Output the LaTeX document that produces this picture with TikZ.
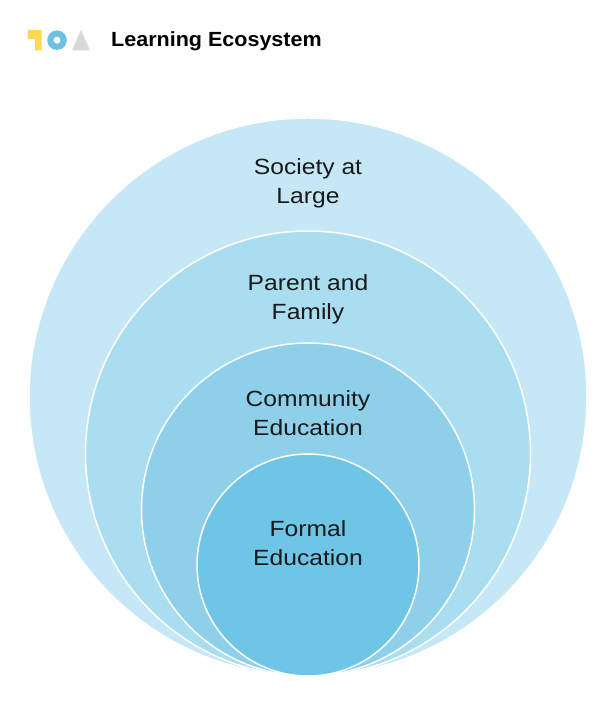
\documentclass[tikz,border=0pt]{standalone}
\usepackage{fontspec}
\setmainfont{Liberation Sans}
\newfontfamily\ringfont[FakeStretch=1.12]{Liberation Sans}
\newfontfamily\titlefont[FakeStretch=1.05]{Liberation Sans}
\usepackage{tikz}
\definecolor{society}{HTML}{C6E8F6}
\definecolor{family}{HTML}{ABDDF0}
\definecolor{community}{HTML}{8ED0EA}
\definecolor{formal}{HTML}{6FC5E6}
\definecolor{logoyellow}{HTML}{FDD854}
\definecolor{logoblue}{HTML}{6EC1E4}
\definecolor{logogray}{HTML}{D9D9D9}
\tikzset{
	ring/.style={draw=white, line width=1.5pt},
	ringlabel/.style={align=center, font=\ringfont\fontsize{22}{29}\selectfont, text=black!90}
}

\begin{document}
\begin{tikzpicture}[x=1pt, y=1pt]
		%%%%% START %%%%%
		
		\useasboundingbox[fill=white] (0, 0) rectangle (613, 703);
		
		\fill[logoyellow] (27.5, 673) -- (41.7, 673) -- (41.7, 652.5) -- (35, 652.5) -- (35, 664) -- (27.5, 664) -- cycle;
		\fill[logoblue, even odd rule] (57, 662.8) circle (9.8) (57, 662.8) circle (3.6);
		\fill[logogray] (72, 652.5) -- (90, 652.5) -- (81, 673) -- cycle;
		\node[anchor=base west, inner sep=0pt, font=\titlefont\fontsize{20.5}{24}\selectfont\bfseries] (title) at (111, 656.3) {Learning Ecosystem};
		
		\draw[ring, fill=society] (308, 306) circle (279);
		\draw[ring, fill=family] (308, 249.5) circle (222.5);
		\draw[ring, fill=community] (308, 193.5) circle (166.5);
		\draw[ring, fill=formal] (308, 138) circle (111);
		
		\node[ringlabel] (society) at (308, 520) {Society at\\Large};
		\node[ringlabel] (family) at (308, 403.5) {Parent and\\Family};
		\node[ringlabel] (community) at (308, 289.5) {Community\\Education};
		\node[ringlabel] (formal) at (308, 159.5) {Formal\\Education};
		
		%%%%% END %%%%%
	\end{tikzpicture}
\end{document}
